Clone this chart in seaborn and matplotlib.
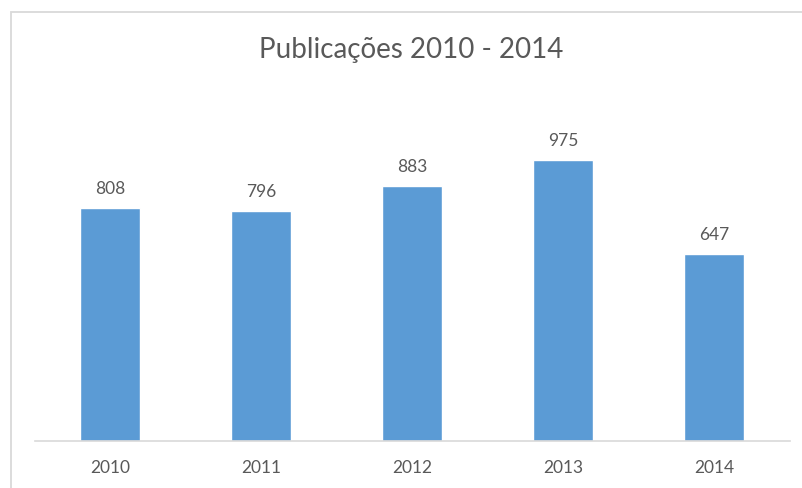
import matplotlib
matplotlib.use("Agg")
import matplotlib.pyplot as plt
from matplotlib.patches import Rectangle
import seaborn as sns
import pandas as pd

# Publications per year
anos = ["2010", "2011", "2012", "2013", "2014"]
publicacoes = [808, 796, 883, 975, 647]
titulo = "Publicações 2010 - 2014"

sns.set_theme(style="white")
plt.rcParams["font.family"] = ["Lato", "DejaVu Sans"]

df = pd.DataFrame({"ano": anos, "publicacoes": publicacoes})

cor_barra = "#5b9bd5"
cor_texto = "#595959"
cor_linha = "#d9d9d9"

fig = plt.figure(figsize=(8.02, 4.88), dpi=100)
fig.patch.set_facecolor("white")

# chart-area frame
fig.patches.append(Rectangle((11 / 802, -0.01), 1.02, (488 - 11.5) / 488 + 0.01,
                             transform=fig.transFigure, fill=False,
                             edgecolor=cor_linha, linewidth=1.3))

ax = fig.add_axes([34.5 / 802, (488 - 441) / 488, 755 / 802, (441 - 95) / 488])
sns.barplot(data=df, x="ano", y="publicacoes", color=cor_barra, width=0.4,
            saturation=1, ax=ax)

for c in ax.containers:
    ax.bar_label(c, labels=[str(v) for v in publicacoes], padding=8,
                 fontsize=12.5, color=cor_texto)

ax.set_ylim(0, 1200)
ax.set_xlim(-0.5, len(anos) - 0.5)
ax.set_xlabel("")
ax.set_ylabel("")
ax.set_yticks([])
ax.tick_params(axis="x", length=0, pad=14, labelsize=12.5, labelcolor=cor_texto)
for s in ["top", "right", "left"]:
    ax.spines[s].set_visible(False)
ax.spines["bottom"].set_color(cor_linha)
ax.spines["bottom"].set_linewidth(1.2)

fig.text(411 / 802, 1 - 50 / 488, titulo, ha="center", va="center",
         fontsize=20, color=cor_texto)

fig.savefig("out.png", dpi=100, facecolor="white")
